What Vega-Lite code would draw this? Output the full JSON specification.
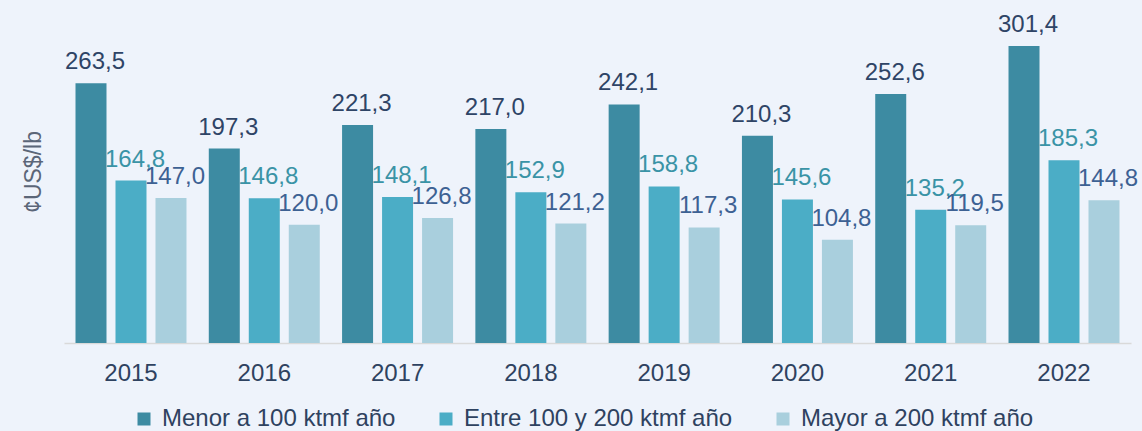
{
  "$schema": "https://vega.github.io/schema/vega-lite/v6.json",
  "width": 1067,
  "height": 343,
  "autosize": {"type": "none"},
  "padding": {"left": 64, "top": 0, "right": 11, "bottom": 88},
  "background": "#EEF3FB",
  "config": {
    "locale": {"number": {"decimal": ",", "thousands": ".", "grouping": [3], "currency": ["", ""]}},
    "view": {"stroke": null},
    "font": "Liberation Sans"
  },
  "data": {
    "values": [
      {"anio": "2015", "serie": "Menor a 100 ktmf año", "valor": 263.5},
      {"anio": "2015", "serie": "Entre 100 y 200 ktmf año", "valor": 164.8},
      {"anio": "2015", "serie": "Mayor a 200 ktmf año", "valor": 147.0},
      {"anio": "2016", "serie": "Menor a 100 ktmf año", "valor": 197.3},
      {"anio": "2016", "serie": "Entre 100 y 200 ktmf año", "valor": 146.8},
      {"anio": "2016", "serie": "Mayor a 200 ktmf año", "valor": 120.0},
      {"anio": "2017", "serie": "Menor a 100 ktmf año", "valor": 221.3},
      {"anio": "2017", "serie": "Entre 100 y 200 ktmf año", "valor": 148.1},
      {"anio": "2017", "serie": "Mayor a 200 ktmf año", "valor": 126.8},
      {"anio": "2018", "serie": "Menor a 100 ktmf año", "valor": 217.0},
      {"anio": "2018", "serie": "Entre 100 y 200 ktmf año", "valor": 152.9},
      {"anio": "2018", "serie": "Mayor a 200 ktmf año", "valor": 121.2},
      {"anio": "2019", "serie": "Menor a 100 ktmf año", "valor": 242.1},
      {"anio": "2019", "serie": "Entre 100 y 200 ktmf año", "valor": 158.8},
      {"anio": "2019", "serie": "Mayor a 200 ktmf año", "valor": 117.3},
      {"anio": "2020", "serie": "Menor a 100 ktmf año", "valor": 210.3},
      {"anio": "2020", "serie": "Entre 100 y 200 ktmf año", "valor": 145.6},
      {"anio": "2020", "serie": "Mayor a 200 ktmf año", "valor": 104.8},
      {"anio": "2021", "serie": "Menor a 100 ktmf año", "valor": 252.6},
      {"anio": "2021", "serie": "Entre 100 y 200 ktmf año", "valor": 135.2},
      {"anio": "2021", "serie": "Mayor a 200 ktmf año", "valor": 119.5},
      {"anio": "2022", "serie": "Menor a 100 ktmf año", "valor": 301.4},
      {"anio": "2022", "serie": "Entre 100 y 200 ktmf año", "valor": 185.3},
      {"anio": "2022", "serie": "Mayor a 200 ktmf año", "valor": 144.8}
    ]
  },
  "encoding": {
    "x": {
      "field": "anio",
      "type": "nominal",
      "scale": {"paddingInner": 0.0998, "paddingOuter": 0.0525},
      "axis": {
        "title": null,
        "labelAngle": 0,
        "labelFontSize": 24,
        "labelColor": "#2E4260",
        "labelPadding": 18,
        "ticks": false,
        "tickSize": 0,
        "grid": false,
        "domainColor": "#D9D9D9",
        "domainWidth": 1.5
      }
    },
    "xOffset": {
      "field": "serie",
      "type": "nominal",
      "scale": {
        "domain": ["Menor a 100 ktmf año", "Entre 100 y 200 ktmf año", "Mayor a 200 ktmf año"],
        "paddingInner": 0.225,
        "paddingOuter": 0.1125
      }
    },
    "y": {
      "field": "valor",
      "type": "quantitative",
      "scale": {"domain": [0, 348], "nice": false},
      "axis": {
        "title": "¢US$/lb",
        "labels": false,
        "ticks": false,
        "grid": false,
        "domain": false,
        "titleFontSize": 23,
        "titleFontWeight": "normal",
        "titleColor": "#5B6678",
        "titleX": -30.5,
        "titleY": 171.5,
        "titleAngle": -90,
        "titleBaseline": "middle",
        "titleAlign": "center"
      }
    }
  },
  "layer": [
    {
      "mark": {"type": "bar"},
      "encoding": {
        "color": {
          "field": "serie",
          "type": "nominal",
          "scale": {
            "domain": ["Menor a 100 ktmf año", "Entre 100 y 200 ktmf año", "Mayor a 200 ktmf año"],
            "range": ["#3D8BA2", "#4BADC6", "#A9CFDD"]
          },
          "legend": {
            "orient": "none",
            "legendX": 68,
            "legendY": 407,
            "direction": "horizontal",
            "title": null,
            "symbolType": "square",
            "symbolSize": 169,
            "symbolStrokeWidth": 0,
            "labelFontSize": 24,
            "labelColor": "#2E4260",
            "labelLimit": 400,
            "labelOffset": 6,
            "columnPadding": 38
          }
        }
      }
    },
    {
      "mark": {"type": "text", "dx": 4, "dy": -14, "baseline": "alphabetic", "align": "center", "fontSize": 24},
      "encoding": {
        "text": {"field": "valor", "type": "quantitative", "format": ".1f"},
        "color": {
          "field": "serie",
          "type": "nominal",
          "scale": {
            "domain": ["Menor a 100 ktmf año", "Entre 100 y 200 ktmf año", "Mayor a 200 ktmf año"],
            "range": ["#2E4466", "#3A93A6", "#3D6193"]
          },
          "legend": null
        }
      }
    }
  ],
  "resolve": {"scale": {"color": "independent"}}
}
